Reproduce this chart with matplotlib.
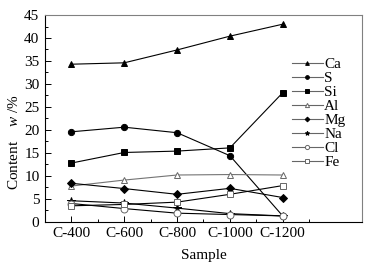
import matplotlib
matplotlib.use('Agg')
import matplotlib.pyplot as plt
import numpy as np

plt.rcParams['font.family'] = ['Liberation Serif', 'DejaVu Serif']
plt.rcParams['mathtext.fontset'] = 'custom'
plt.rcParams['mathtext.it'] = 'Liberation Serif:italic'

samples = ['C-400', 'C-600', 'C-800', 'C-1000', 'C-1200']
elements = ['Ca', 'S', 'Si', 'Al', 'Mg', 'Na', 'Cl', 'Fe']
ca = [34.3, 34.6, 37.4, 40.4, 43.0]
s = [19.6, 20.6, 19.4, 14.4, 1.3]
si = [12.8, 15.1, 15.4, 16.1, 28.1]
al = [7.8, 9.1, 10.2, 10.3, 10.2]
mg = [8.4, 7.25, 6.0, 7.3, 5.3]
na = [4.6, 4.1, 3.0, 1.8, 1.3]
cl = [4.0, 2.9, 1.9, 1.6, 1.3]
fe = [3.5, 3.8, 4.3, 6.0, 7.9]
series = [ca, s, si, al, mg, na, cl, fe]

markers = ['^', 'o', 's', '^', 'D', '*', 'o', 's']
filled = [True, True, True, False, True, True, False, False]
msizes = [4.5, 4.5, 5, 5, 4, 5.5, 5, 5]
lcolors = ['black', 'black', 'black', '0.45', 'black', 'black', 'black', 'black']

fig = plt.figure(figsize=(3.72, 2.68), dpi=100)
ax = fig.add_axes([0.121, 0.172, 0.852, 0.772])

x = np.arange(len(samples))
for vals, name, m, f, ms, lc in zip(series, elements, markers, filled, msizes, lcolors):
    ax.plot(x, vals, color=lc, lw=0.8, marker=m, ms=ms,
            mfc='black' if f else 'white', mec='black' if f else '0.4',
            mew=0.7, label=name)

ax.set_xlim(-0.5, 5.5)
ax.set_ylim(0, 45)
ax.set_xticks(x)
ax.set_xticklabels(samples)
ax.set_xticks(np.arange(0.5, 5.5, 1), minor=True)
ax.set_yticks(np.arange(0, 46, 5))
ax.set_yticks(np.arange(2.5, 45, 5), minor=True)
ax.tick_params(direction='in', labelsize=11, length=4, width=0.7, pad=4)
ax.tick_params(which='minor', direction='in', length=2.5, width=0.7)
ax.tick_params(top=False, right=False)
for side in ['top', 'right']:
    ax.spines[side].set_color('0.5')
for side in ['left', 'bottom']:
    ax.spines[side].set_linewidth(0.8)

ax.set_xlabel('Sample', fontsize=11, labelpad=6)
ax.set_ylabel('Content    $w$ /%', fontsize=11)
ax.yaxis.set_label_coords(-0.075, 0.385)

leg = ax.legend(loc='upper left', bbox_to_anchor=(0.76, 0.825), frameon=False,
                fontsize=11, handlelength=2.0, handletextpad=0.1,
                labelspacing=0.02, markerscale=0.6, borderaxespad=0)
for line in leg.get_lines():
    line.set_color('0.4')
    line.set_linewidth(0.8)

fig.savefig('out.png', dpi=100)
